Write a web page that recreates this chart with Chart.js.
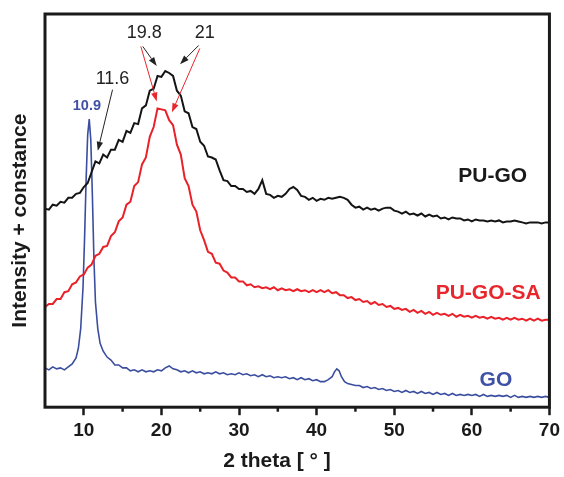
<!DOCTYPE html>
<html><head><meta charset="utf-8">
<script src="https://cdn.jsdelivr.net/npm/chart.js@4"></script>
<style>html,body{margin:0;padding:0;background:#fff}</style>
</head><body>
<canvas id="c" width="564" height="477"></canvas>
<script>
// 2 theta (degrees) for PU-GO and PU-GO-SA
const theta = [
 5,5.5,6,6.5,7,7.5,8,8.5,9,9.5,
 10,10.5,11,11.5,12,12.5,13,13.5,14,14.5,
 15,15.5,16,16.5,17,17.5,18,18.5,19,19.5,
 20,20.5,21,21.5,22,22.5,23,23.5,24,24.5,
 25,25.5,26,26.5,27,27.5,28,28.5,29,29.5,
 30,30.5,31,31.5,32,32.5,33,33.5,34,34.5,
 35,35.5,36,36.5,37,37.5,38,38.5,39,39.5,
 40,40.5,41,41.5,42,42.5,43,43.5,44,44.5,
 45,45.5,46,46.5,47,47.5,48,48.5,49,49.5,
 50,50.5,51,51.5,52,52.5,53,53.5,54,54.5,
 55,55.5,56,56.5,57,57.5,58,58.5,59,59.5,
 60,60.5,61,61.5,62,62.5,63,63.5,64,64.5,
 65,65.5,66,66.5,67,67.5,68,68.5,69,69.5,
 70];
const puGo = [
 202,201,206,205,209,208,213,213,217,218,
 224,228,239,250,248,257,254,262,262,272,
 270,281,279,289,288,304,307,322,324,337,
 336,342,340,337,322,317,301,299,285,283,
 270,266,255,254,252,241,231,230,225,225,
 222,222,219,220,217,222,231,217,216,213,
 215,214,217,222,224,221,215,214,211,213,
 210,212,211,213,212,213,214,213,211,206,
 203,204,201,203,201,202,200,202,203,203,
 200,199,197,199,196,197,195,197,194,196,
 194,195,192,193,191,193,192,192,190,191,
 189,191,190,190,189,190,189,190,188,189,
 189,190,189,188,187,188,188,188,187,188,
 188];
const puGoSa = [
 102,105,105,110,110,117,118,125,127,133,
 135,142,145,154,156,163,164,174,178,189,
 193,206,209,225,229,247,254,275,285,304,
 303,302,292,287,267,257,233,225,206,199,
 180,170,158,156,147,146,139,137,132,132,
 128,128,124,125,122,123,121,122,120,122,
 119,121,119,120,118,120,118,119,117,119,
 117,119,117,119,116,117,114,114,111,112,
 109,110,107,108,105,107,104,105,102,103,
 100,101,99,100,97,99,96,98,95,97,
 94,96,94,95,93,95,92,94,92,93,
 91,93,91,92,90,92,90,91,89,91,
 89,91,89,90,88,90,88,90,88,89,
 89];
// GO has its own (finer) theta around the sharp 10.9 peak
const goTheta = [
 5,5.5,6,6.5,7,7.5,8,8.5,9,9.3,
 9.6,9.9,10.1,10.3,10.5,10.7,10.9,11.1,11.3,11.5,
 11.8,12.1,12.5,13,13.5,14,14.5,15,15.5,16,
 16.5,17,17.5,18,18.5,19,19.5,20,20.5,21,
 21.5,22,22.5,23,23.5,24,24.5,25,25.5,26,
 26.5,27,27.5,28,28.5,29,29.5,30,30.5,31,
 31.5,32,32.5,33,33.5,34,34.5,35,35.5,36,
 36.5,37,37.5,38,38.5,39,39.5,40,40.5,41,
 41.5,42,42.3,42.6,42.9,43.2,43.6,44,44.5,45,
 45.5,46,46.5,47,47.5,48,48.5,49,49.5,50,
 50.5,51,51.5,52,52.5,53,53.5,54,54.5,55,
 55.5,56,56.5,57,57.5,58,58.5,59,59.5,60,
 60.5,61,61.5,62,62.5,63,63.5,64,64.5,65,
 65.5,66,66.5,67,67.5,68,68.5,69,69.5,70];
const goIntensity = [
 40,38,41,39,40,38,41,44,50,60,
 80,122,172,232,277,293,272,217,152,107,
 80,65,57,51,48,43,43,40,40,37,
 38,36,38,36,37,36,38,37,40,42,
 39,38,36,37,35,37,35,36,34,35,
 34,36,34,35,33,34,33,35,33,34,
 32,33,31,33,31,32,30,31,30,31,
 29,30,28,30,28,29,27,28,26,26,
 28,31,36,39,37,31,26,24,23,22,
 22,20,21,19,20,18,19,17,18,16,
 17,15,17,15,16,14,16,14,15,13,
 15,13,14,12,14,12,13,12,13,12,
 13,11,13,11,12,11,12,11,12,10,
 12,10,11,10,11,10,11,10,11,10];

const xTickValues = [10,20,30,40,50,60,70];
const xMinorTicks = [15,25,35,45,55,65];
const xTitle = '2 theta [ ° ]';
const yTitle = 'Intensity + constance';

const seriesNames = ['PU-GO','PU-GO-SA','GO'];
const seriesColors = ['#141414','#ea2128','#3a4d9f'];
// series name labels: [theta, intensity]
const nameAt = [[62.7,235],[62.1,116],[63.1,27]];
// peak labels
const peakTexts = ['19.8','21','11.6','10.9'];
const peakAt = [[17.8,380.5],[25.6,380.5],[13.7,333.5],[10.4,306]];
// arrows: [fromTheta, fromI, toTheta, toI, colorIndex]
const arrows = [
 [17.6,367,19.4,347,0],
 [17.35,367,19.4,311,1],
 [24.8,368,22.4,349,0],
 [24.95,365,21.35,300,1],
 [13.7,323,11.8,261,0]
];

const FONT = "'Liberation Sans', Arial, Helvetica, sans-serif";
const toXY = (xs, ys) => xs.map((x, i) => ({x, y: ys[i]}));

const framePlugin = {
  id: 'frameAndNotes',
  afterDraw(chart) {
    const {ctx, chartArea: a, scales: {x, y}} = chart;
    ctx.save();
    // minor ticks
    ctx.strokeStyle = '#1a1a1a';
    ctx.lineWidth = 2.5;
    xMinorTicks.forEach(v => {
      const px = x.getPixelForValue(v);
      ctx.beginPath(); ctx.moveTo(px, a.bottom); ctx.lineTo(px, a.bottom + 4.5); ctx.stroke();
    });
    // frame
    ctx.lineWidth = 3;
    ctx.strokeRect(a.left, a.top, a.right - a.left, a.bottom - a.top);
    // arrows
    arrows.forEach(([t0, v0, t1, v1, ci]) => {
      const x0 = x.getPixelForValue(t0), y0 = y.getPixelForValue(v0);
      const x1 = x.getPixelForValue(t1), y1 = y.getPixelForValue(v1);
      const col = ci === 0 ? '#222' : '#e8262c';
      const ang = Math.atan2(y1 - y0, x1 - x0);
      const L = 9, W = 3.2;
      const bx = x1 - L * Math.cos(ang), by = y1 - L * Math.sin(ang);
      ctx.strokeStyle = col; ctx.fillStyle = col; ctx.lineWidth = 1;
      ctx.beginPath(); ctx.moveTo(x0, y0); ctx.lineTo(bx, by); ctx.stroke();
      ctx.beginPath();
      ctx.moveTo(x1, y1);
      ctx.lineTo(bx + W * Math.sin(ang), by - W * Math.cos(ang));
      ctx.lineTo(bx - W * Math.sin(ang), by + W * Math.cos(ang));
      ctx.closePath(); ctx.fill();
    });
    // peak labels
    ctx.textAlign = 'center'; ctx.textBaseline = 'middle';
    peakTexts.forEach((txt, i) => {
      const [t, v] = peakAt[i];
      if (i === 3) { ctx.font = 'bold 14.5px ' + FONT; ctx.fillStyle = '#3f51a6'; }
      else { ctx.font = '18px ' + FONT; ctx.fillStyle = '#222'; }
      ctx.fillText(txt, x.getPixelForValue(t), y.getPixelForValue(v));
    });
    // series names
    ctx.font = 'bold 21px ' + FONT;
    seriesNames.forEach((n, i) => {
      ctx.fillStyle = i === 2 ? '#3f51a6' : (i === 1 ? '#e8262c' : '#1a1a1a');
      ctx.fillText(n, x.getPixelForValue(nameAt[i][0]), y.getPixelForValue(nameAt[i][1]));
    });
    // axis titles
    ctx.fillStyle = '#1a1a1a';
    ctx.font = 'bold 21px ' + FONT;
    ctx.fillText(xTitle, a.left + (a.right - a.left) * 0.46, a.bottom + 54);
    ctx.translate(a.left - 25, (a.top + a.bottom) / 2 + 10);
    ctx.rotate(-Math.PI / 2);
    ctx.fillText(yTitle, 0, 0);
    ctx.restore();
  }
};

new Chart(document.getElementById('c'), {
  type: 'line',
  data: {
    datasets: [
      {label: seriesNames[0], data: toXY(theta, puGo), borderColor: seriesColors[0], borderWidth: 2},
      {label: seriesNames[1], data: toXY(theta, puGoSa), borderColor: seriesColors[1], borderWidth: 2},
      {label: seriesNames[2], data: toXY(goTheta, goIntensity), borderColor: seriesColors[2], borderWidth: 1.6}
    ]
  },
  options: {
    responsive: false, animation: false, devicePixelRatio: 1,
    layout: {padding: {top: 14, right: 13, left: 45, bottom: 31}},
    elements: {point: {radius: 0}, line: {tension: 0, fill: false}},
    plugins: {legend: {display: false}, tooltip: {enabled: false}},
    scales: {
      x: {
        type: 'linear', min: 5, max: 70,
        afterBuildTicks: s => { s.ticks = xTickValues.map(v => ({value: v})); },
        grid: {drawOnChartArea: false, tickLength: 8, tickWidth: 2.5, tickColor: '#1a1a1a'},
        border: {display: false},
        ticks: {font: {family: FONT, size: 19, weight: 'bold'}, color: '#1a1a1a', padding: 4, maxRotation: 0, autoSkip: false}
      },
      y: {
        min: 0, max: 400,
        ticks: {display: false},
        grid: {display: false, drawTicks: false},
        border: {display: false}
      }
    }
  },
  plugins: [framePlugin]
});
</script>
</body></html>
